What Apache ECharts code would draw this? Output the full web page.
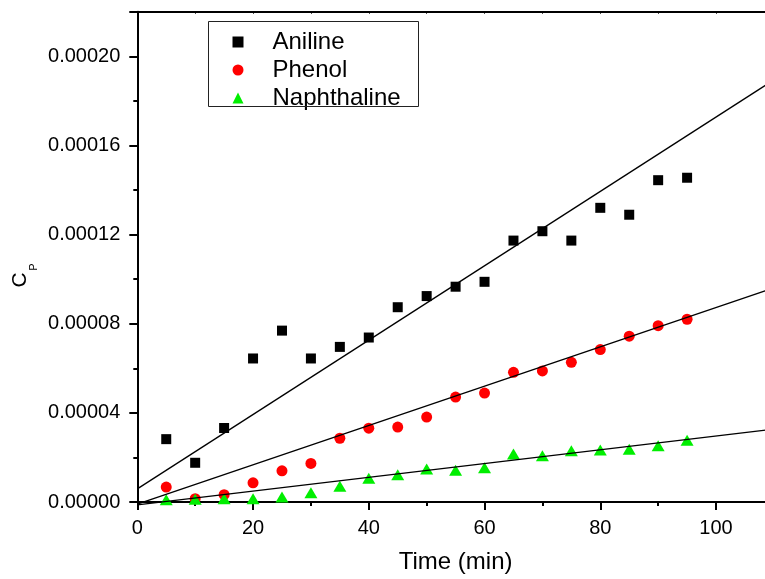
<!DOCTYPE html>
<html>
<head>
<meta charset="utf-8">
<script src="https://cdn.jsdelivr.net/npm/echarts@6/dist/echarts.min.js"></script>
<style>html,body{margin:0;padding:0;background:#fff;overflow:hidden;width:765px;height:579px;}#c{width:780px;height:579px;}</style>
</head>
<body>
<div id="c"></div>
<script>
var times = [5,10,15,20,25,30,35,40,45,50,55,60,65,70,75,80,85,90,95];
var aniline = [2.82e-5,1.76e-5,3.32e-5,6.44e-5,7.69e-5,6.44e-5,6.96e-5,7.38e-5,8.74e-5,9.24e-5,9.66e-5,9.88e-5,1.173e-4,1.215e-4,1.173e-4,1.32e-4,1.289e-4,1.444e-4,1.455e-4];
var phenol = [6.7e-6,1.5e-6,3.3e-6,8.6e-6,1.40e-5,1.73e-5,2.86e-5,3.31e-5,3.36e-5,3.81e-5,4.71e-5,4.89e-5,5.82e-5,5.88e-5,6.27e-5,6.84e-5,7.44e-5,7.91e-5,8.20e-5];
var naphthaline = [1.0e-6,1.2e-6,1.5e-6,1.5e-6,2.2e-6,4.2e-6,7.1e-6,1.07e-5,1.22e-5,1.48e-5,1.42e-5,1.54e-5,2.15e-5,2.08e-5,2.30e-5,2.33e-5,2.37e-5,2.52e-5,2.77e-5];
var fitX = [0, 110];
var anilineFit = [5.9e-6, 1.894e-4];
var phenolFit = [-1.0e-6, 9.61e-5];
var naphthalineFit = [-1.3e-6, 3.27e-5];
var seriesNames = ['Aniline','Phenol','Naphthaline'];
var xAxisName = 'Time (min)';

function pairs(xs, ys){ return xs.map(function(x,i){ return [x, ys[i]]; }); }

var FONT = 'Liberation Sans, Arial, Helvetica, sans-serif';
var chart = echarts.init(document.getElementById('c'), null, {renderer:'canvas'});
var fitStyle = {color:'#000', width:1.3};
chart.setOption({
  animation:false,
  backgroundColor:'#fff',
  grid:{left:137.3, top:11.7, width:636.6, height:495, containLabel:false},
  legend:{
    data:seriesNames, orient:'vertical', left:227.5, top:25,
    itemWidth:11, itemHeight:11, itemGap:4,
    textStyle:{fontFamily:FONT, fontSize:24, color:'#000', lineHeight:24, padding:[0,0,0,24]},
    selectedMode:false
  },
  xAxis:[{
    type:'value', min:0, max:110, interval:20, position:'bottom',
    name:xAxisName, nameLocation:'middle', nameGap:48,
    nameTextStyle:{fontFamily:FONT, fontSize:24, color:'#000'},
    axisLine:{onZero:false, lineStyle:{color:'#000', width:2}},
    axisTick:{inside:false, length:8, lineStyle:{color:'#000', width:2}},
    minorTick:{show:true, splitNumber:2, length:4, lineStyle:{color:'#000', width:2}},
    axisLabel:{fontFamily:FONT, fontSize:20, color:'#000', margin:16, showMaxLabel:false},
    splitLine:{show:false}
  },{
    type:'value', min:0, max:110, interval:10, position:'top',
    axisLine:{onZero:false, lineStyle:{color:'#000', width:2}},
    axisTick:{inside:true, length:2, lineStyle:{color:'#000', width:1}},
    axisLabel:{show:false}, splitLine:{show:false}
  }],
  yAxis:{
    type:'value', min:0, max:0.00022, interval:0.00004,
    axisLine:{onZero:false, lineStyle:{color:'#000', width:2}},
    axisTick:{inside:false, length:8, lineStyle:{color:'#000', width:2}},
    minorTick:{show:true, splitNumber:2, length:4, lineStyle:{color:'#000', width:2}},
    axisLabel:{fontFamily:FONT, fontSize:20, color:'#000', margin:17, showMaxLabel:false,
      formatter:function(v){ return v.toFixed(5); }},
    splitLine:{show:false}
  },
  graphic:[
    {type:'rect', shape:{x:208.5, y:21.5, width:210, height:85}, style:{fill:null, stroke:'#222', lineWidth:1}, z:100},
    {type:'text', x:20, y:280, rotation:Math.PI/2, style:{text:'C', fontFamily:FONT, fontSize:21, fill:'#000', textAlign:'center', textVerticalAlign:'middle'}},
    {type:'text', x:33.5, y:267, rotation:Math.PI/2, style:{text:'P', fontFamily:FONT, fontSize:11, fill:'#000', textAlign:'center', textVerticalAlign:'middle'}}
  ],
  series:[
    {name:'Aniline', type:'scatter', data:pairs(times, aniline), symbol:'rect', symbolSize:10, itemStyle:{color:'#000', opacity:1}, z:2},
    {name:'Phenol', type:'scatter', data:pairs(times, phenol), symbol:'circle', symbolSize:11, itemStyle:{color:'#ff0000', opacity:1}, z:2},
    {name:'Naphthaline', type:'scatter', data:pairs(times, naphthaline), symbol:'triangle', symbolSize:[13,11], itemStyle:{color:'#00ee00', opacity:1}, z:2},
    {name:'AnilineFit', type:'line', data:pairs(fitX, anilineFit), showSymbol:false, symbol:'none', lineStyle:fitStyle, clip:false, z:3, silent:true},
    {name:'PhenolFit', type:'line', data:pairs(fitX, phenolFit), showSymbol:false, symbol:'none', lineStyle:fitStyle, clip:false, z:3, silent:true},
    {name:'NaphthalineFit', type:'line', data:pairs(fitX, naphthalineFit), showSymbol:false, symbol:'none', lineStyle:fitStyle, clip:false, z:3, silent:true}
  ]
});
</script>
</body>
</html>
